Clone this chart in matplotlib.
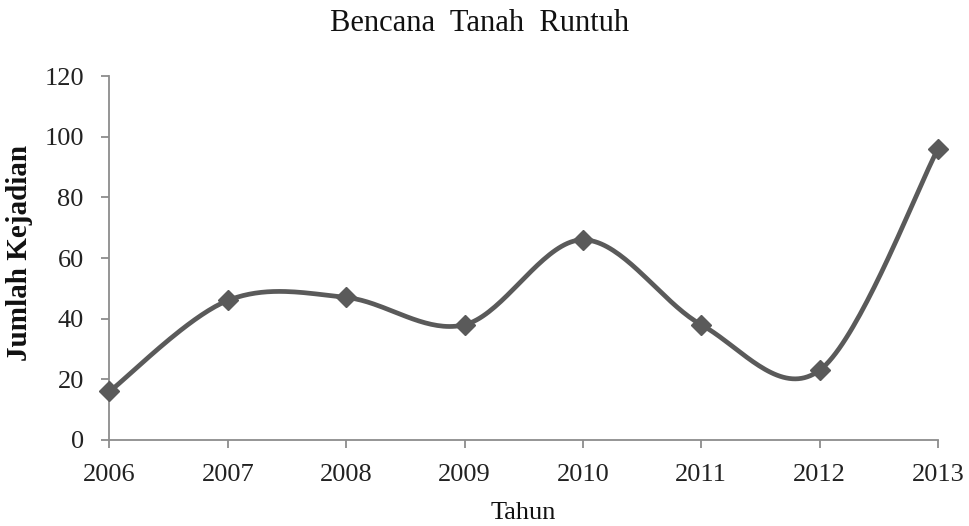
import numpy as np
import matplotlib
matplotlib.use('Agg')
import matplotlib.pyplot as plt

years = [2006, 2007, 2008, 2009, 2010, 2011, 2012, 2013]
kejadian = [16, 46, 47, 38, 66, 38, 23, 96]
yticks = [0, 20, 40, 60, 80, 100, 120]


def smooth_curve(x, y, n=40):
    # Excel-style smoothed line: cubic Bezier through points (Catmull-Rom tangents)
    p = np.column_stack([x, y]).astype(float)
    ext = np.vstack([p[0], p, p[-1]])
    out = []
    t = np.linspace(0, 1, n)[:, None]
    for i in range(len(p) - 1):
        p0, p1, p2, p3 = ext[i], ext[i + 1], ext[i + 2], ext[i + 3]
        c1 = p1 + (p2 - p0) / 6.0
        c2 = p2 - (p3 - p1) / 6.0
        seg = ((1 - t) ** 3) * p1 + 3 * ((1 - t) ** 2) * t * c1 + 3 * (1 - t) * t ** 2 * c2 + t ** 3 * p2
        out.append(seg if i == 0 else seg[1:])
    out = np.vstack(out)
    return out[:, 0], out[:, 1]


plt.rcParams['font.family'] = ['Liberation Serif', 'DejaVu Serif']

fig = plt.figure(figsize=(9.69, 5.26), dpi=100)
ax = fig.add_axes([0.1130, 0.1635, 0.8550, 0.692])

line_color = '#5a5a5a'
sx, sy = smooth_curve(years, kejadian)
ax.plot(sx, sy, color=line_color, lw=3.4, solid_capstyle='round', zorder=3)
ax.plot(years, kejadian, linestyle='none', marker='D', markersize=10.5,
        color=line_color, zorder=4, clip_on=False)

ax.set_xlim(2006, 2013)
ax.set_ylim(0, 120)
ax.set_xticks(years)
ax.set_xticklabels([str(y) for y in years])
ax.set_yticks(yticks)

for s in ['top', 'right']:
    ax.spines[s].set_visible(False)
for s in ['left', 'bottom']:
    ax.spines[s].set_color('#8c8c8c')
    ax.spines[s].set_linewidth(1.3)
ax.tick_params(axis='both', direction='out', length=5.5, width=1.3, color='#8c8c8c',
               labelsize=19, labelcolor='#222222')
ax.tick_params(axis='x', pad=11.5)
ax.tick_params(axis='y', pad=13)

ax.set_xlabel('Tahun', fontsize=19, color='#111111', labelpad=12)
ax.set_ylabel('Jumlah Kejadian', fontsize=21, fontweight='bold', color='#111111')
ax.yaxis.set_label_coords(-0.092, 0.514)
fig.suptitle('Bencana  Tanah  Runtuh', fontsize=22, color='#111111', x=0.495, y=0.982)

fig.savefig('out.png', dpi=100)
